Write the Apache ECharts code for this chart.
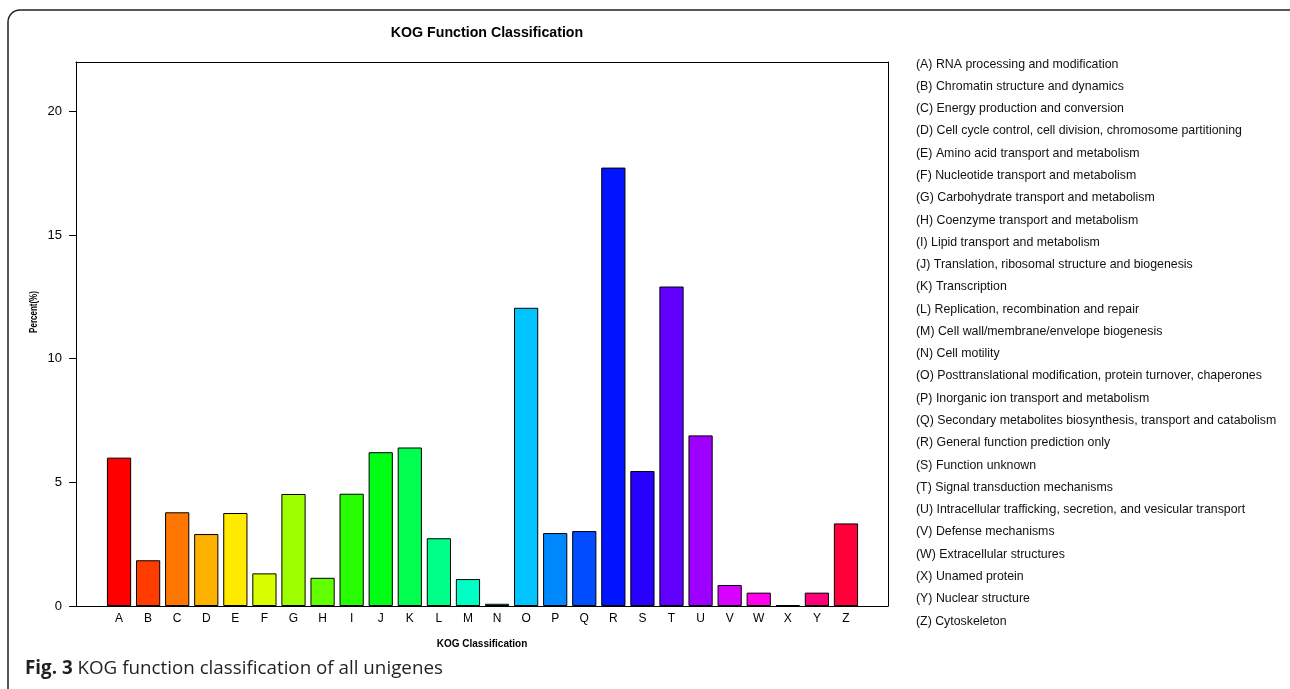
<!DOCTYPE html>
<html>
<head>
<meta charset="utf-8">
<script src="https://cdn.jsdelivr.net/npm/echarts@6/dist/echarts.min.js"></script>
<style>html,body{margin:0;padding:0;background:#fff}#c{width:1290px;height:689px}</style>
</head>
<body>
<div id="c"></div>
<script>
const categories = ['A','B','C','D','E','F','G','H','I','J','K','L','M','N','O','P','Q','R','S','T','U','V','W','X','Y','Z'];
const percents = [6.0,1.85,3.79,2.91,3.76,1.32,4.53,1.14,4.54,6.22,6.41,2.74,1.09,0.09,12.06,2.95,3.03,17.73,5.46,12.92,6.90,0.85,0.54,0.04,0.54,3.34];
const barColors = ['#FF0000','#FF3B00','#FF7600','#FFB100','#FFEB00','#D8FF00','#9DFF00','#62FF00','#27FF00','#00FF14','#00FF4E','#00FF89','#00FFC4','#00FFFF','#00C4FF','#0089FF','#004EFF','#0014FF','#2700FF','#6200FF','#9D00FF','#D800FF','#FF00EB','#FF00B1','#FF0076','#FF003B'];
const yTicks = [0,5,10,15,20];
const descriptions = [
 '(A) RNA processing and modification',
 '(B) Chromatin structure and dynamics',
 '(C) Energy production and conversion',
 '(D) Cell cycle control, cell division, chromosome partitioning',
 '(E) Amino acid transport and metabolism',
 '(F) Nucleotide transport and metabolism',
 '(G) Carbohydrate transport and metabolism',
 '(H) Coenzyme transport and metabolism',
 '(I) Lipid transport and metabolism',
 '(J) Translation, ribosomal structure and biogenesis',
 '(K) Transcription',
 '(L) Replication, recombination and repair',
 '(M) Cell wall/membrane/envelope biogenesis',
 '(N) Cell motility',
 '(O) Posttranslational modification, protein turnover, chaperones',
 '(P) Inorganic ion transport and metabolism',
 '(Q) Secondary metabolites biosynthesis, transport and catabolism',
 '(R) General function prediction only',
 '(S) Function unknown',
 '(T) Signal transduction mechanisms',
 '(U) Intracellular trafficking, secretion, and vesicular transport',
 '(V) Defense mechanisms',
 '(W) Extracellular structures',
 '(X) Unamed protein',
 '(Y) Nuclear structure',
 '(Z) Cytoskeleton'
];
const chartTitle = 'KOG Function Classification';
const xName = 'KOG Classification';
const yName = 'Percent(%)';
const captionBold = 'Fig. 3';
const captionText = 'KOG function classification of all unigenes';

const FONT = '"Liberation Sans", Arial, Helvetica, sans-serif';
const chart = echarts.init(document.getElementById('c'), null, {renderer:'canvas'});
const Y_MAX = 22;

chart.setOption({
  backgroundColor: '#fff',
  animation: false,
  title: [
    {text: chartTitle, left: 482, top: 21, textAlign: 'center',
     textStyle: {fontFamily: FONT, fontSize: 14.2, fontWeight: 'bold', color: '#000'}},
    {text: descriptions.join('\n'), left: 911, top: 48,
     textStyle: {fontFamily: FONT, fontSize: 12.35, fontWeight: 'normal', color: '#111', lineHeight: 22.28}},
    {text: '{b|' + captionBold + '} ' + captionText, left: 20, top: 654,
     textStyle: {fontFamily: '"Open Sans", sans-serif', fontSize: 18.8, fontWeight: 'normal', color: '#231f20',
       rich: {b: {fontFamily: '"Open Sans", sans-serif', fontSize: 18.8, fontWeight: 'bold', color: '#231f20'}}}}
  ],
  graphic: [
    {type: 'rect', shape: {x: 8, y: 10, width: 1300, height: 700, r: 12}, silent: true, z: -1,
     style: {fill: 'none', stroke: '#231f20', lineWidth: 1.5}},
    {type: 'text', x: 34, y: 312, rotation: Math.PI/2, scaleX: 0.8, scaleY: 1, silent: true,
     style: {text: yName, fontFamily: FONT, fontSize: 10, fontWeight: 'bold', fill: '#000', align: 'center', verticalAlign: 'middle'}},
    {type: 'text', x: 482, y: 644, silent: true,
     style: {text: xName, fontFamily: FONT, fontSize: 10, fontWeight: 'bold', fill: '#000', align: 'center', verticalAlign: 'middle'}}
  ],
  grid: [
    {left: 76, right: 402, top: 62, bottom: 83, show: false},
    {left: 104.5, width: 756, top: 62, bottom: 83, show: false}
  ],
  xAxis: [
    {gridIndex: 0, type: 'value', min: 0, max: 1, position: 'bottom',
     axisLine: {show: true, onZero: false, lineStyle: {color: '#000', width: 1}}, axisTick: {show: false}, axisLabel: {show: false}, splitLine: {show: false}},
    {gridIndex: 0, type: 'value', min: 0, max: 1, position: 'top',
     axisLine: {show: true, onZero: false, lineStyle: {color: '#000', width: 1}}, axisTick: {show: false}, axisLabel: {show: false}, splitLine: {show: false}},
    {gridIndex: 1, type: 'category', data: categories, boundaryGap: true,
     axisLine: {show: false}, axisTick: {show: false}, splitLine: {show: false},
     axisLabel: {show: true, interval: 0, margin: 7, fontFamily: FONT, fontSize: 12, color: '#000'}}
  ],
  yAxis: [
    {gridIndex: 0, type: 'value', min: 0, max: Y_MAX, interval: 5, position: 'left',
     axisLine: {show: true, onZero: false, lineStyle: {color: '#000', width: 1}},
     axisTick: {show: true, length: 7, inside: false, customValues: yTicks, lineStyle: {color: '#000'}},
     axisLabel: {show: true, margin: 14, customValues: yTicks, fontFamily: FONT, fontSize: 13, color: '#000'},
     splitLine: {show: false}},
    {gridIndex: 0, type: 'value', min: 0, max: Y_MAX, position: 'right',
     axisLine: {show: true, onZero: false, lineStyle: {color: '#000', width: 1}}, axisTick: {show: false}, axisLabel: {show: false}, splitLine: {show: false}},
    {gridIndex: 1, type: 'value', min: 0, max: Y_MAX, show: false}
  ],
  series: [{
    type: 'bar', xAxisIndex: 2, yAxisIndex: 2,
    barWidth: '83.3%',
    data: percents.map((v, i) => ({value: v, itemStyle: {color: barColors[i]}})),
    itemStyle: {borderColor: '#000', borderWidth: 1}
  }]
});
</script>
</body>
</html>
